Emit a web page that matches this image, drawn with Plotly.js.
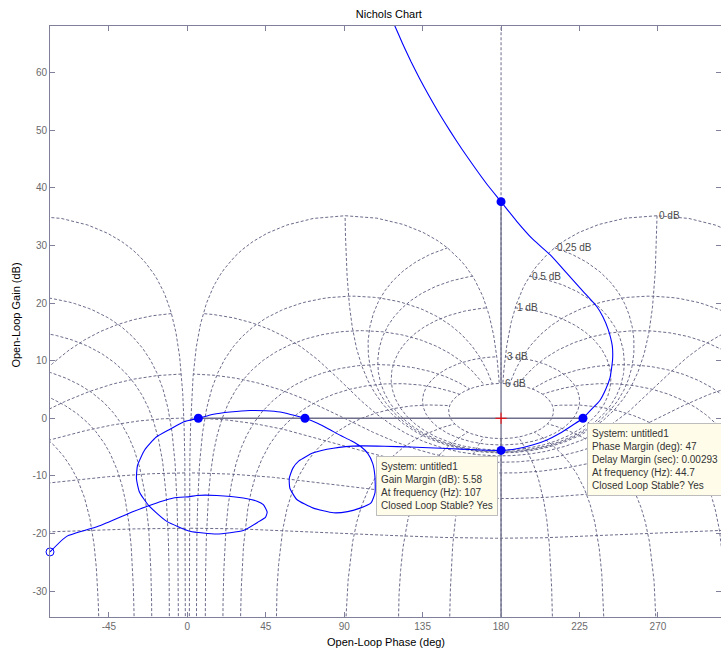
<!DOCTYPE html>
<html><head><meta charset="utf-8">
<script src="https://cdn.plot.ly/plotly-3.0.1.min.js"></script>
<style>html,body{margin:0;padding:0;background:#fff}#chart{width:721px;height:653px}</style>
</head><body><div id="chart"></div>
<script>
// ---- Open-loop response (phase in deg, gain in dB) ----
const loopPhase = [-78.8,-69.2,-51.5,-31.0,-23.3,-8.0,1.5,5.4,16.9,32.1,40.0,43.6,45.8,44.8,41.2,32.1,16.9,1.5,-11.8,-22.0,-27.5,-29.2,-28.6,-24.5,-18.0,-9.9,-2.0,6.3,15.0,24.5,36.0,45.0,53.2,60.0,67.5,75.0,81.9,88.0,94.0,99.5,103.5,106.3,107.6,107.7,105.4,99.1,92.0,83.8,72.3,62.8,58.8,58.5,60.5,64.0,72.3,83.8,99.1,113.0,127.8,142.0,156.5,168.0,180.0,189.0,198.5,206.0,213.8,221.0,227.0,232.0,236.5,240.0,242.5,244.0,243.8,241.5,238.5,234.9,227.2,217.7,208.1,198.5,189.0,180.0,171.8,164.5,157.5,150.9,144.7,138.9,133.4,128.3,123.6,119.2,117.1];
const loopGain  = [-23.2,-20.5,-18.8,-16.2,-15.3,-13.85,-13.6,-13.4,-13.4,-13.85,-14.4,-15.0,-16.3,-17.2,-17.9,-19.5,-20.1,-19.6,-17.9,-15.2,-12.8,-10.5,-8.2,-5.5,-3.3,-1.9,-0.6,0.0,0.7,1.08,1.35,1.3,1.08,0.6,0.0,-0.9,-2.0,-3.0,-3.9,-4.9,-6.1,-7.8,-10.0,-12.9,-14.7,-15.6,-16.2,-16.4,-15.6,-14.1,-12.1,-10.4,-8.7,-7.4,-6.0,-5.2,-4.8,-4.85,-5.0,-5.15,-5.35,-5.5,-5.58,-5.3,-4.6,-3.8,-2.6,-1.2,0.0,1.6,3.0,5.0,7.0,10.2,12.6,15.4,17.6,19.4,22.0,25.2,28.4,31.0,34.2,37.6,40.67,43.7,46.75,49.8,52.83,55.87,58.9,61.94,64.98,68.02,69.5];
const startPhase = [-78.8];
const startGain  = [-23.2];
// stability margin points
const gmPhase = [180, 180];
const gmGain  = [37.6, -5.58];
const pmPhase = [6.3, 67.5, 227];
const pmGain  = [0, 0, 0];
const critPhase = [180];
const critGain  = [0];
// Nichols grid: closed-loop gains (dB) and closed-loop phases (deg)
const gridGains  = [6, 3, 1, 0.5, 0.25, 0, -1, -3, -6, -12, -20, -40];
const gridPhases = [-1,-5,-10,-20,-30,-50,-90,-120,-150,-180,-210,-240,-270,-310,-330,-340,-350,-355,-359];
// axes
const xTicks = [-45, 0, 45, 90, 135, 180, 225, 270];
const yTicks = [-30, -20, -10, 0, 10, 20, 30, 40, 50, 60];
const xRange = [-78.8, 306.2];
const yRange = [-34.5, 68.1];
// data tips
const gmTip = ['System: untitled1', 'Gain Margin (dB): 5.58', 'At frequency (Hz): 107', 'Closed Loop Stable? Yes'];
const pmTip = ['System: untitled1', 'Phase Margin (deg): 47', 'Delay Margin (sec): 0.00293', 'At frequency (Hz): 44.7', 'Closed Loop Stable? Yes'];

const FONT = 'Liberation Sans, Arial, Helvetica, sans-serif';

// ---- Nichols grid generation ----
function openLoop(tm, tphDeg) {
  const r = tphDeg * Math.PI / 180;
  const re = tm * Math.cos(r), im = tm * Math.sin(r);
  const dr = 1 - re, di = -im;
  const mag = tm / Math.hypot(dr, di);
  const ph = tphDeg - Math.atan2(di, dr) * 180 / Math.PI;
  return [ph, 20 * Math.log10(mag)];
}
const gx = [], gy = [];
const shifts = [0, 360];
function phiList() {
  const a = [];
  for (let i = 10; i < 100; i++) a.push(-i / 10);
  for (let i = 20; i <= 700; i++) a.push(-i / 2);
  for (let i = 3501; i <= 3590; i++) a.push(-i / 10);
  return a;
}
const phis = phiList();
gridGains.forEach(g => {
  const m = Math.pow(10, g / 20);
  shifts.forEach(s => {
    phis.forEach(p => { const [ph, gd] = openLoop(m, p); gx.push(ph + s); gy.push(gd); });
    gx.push(null); gy.push(null);
  });
});
gridPhases.forEach(p => {
  shifts.forEach(s => {
    for (let i = -1000; i <= 120; i++) {
      const t = Math.pow(10, (i * 0.05) / 20);
      const [ph, gd] = openLoop(t, p); gx.push(ph + s); gy.push(gd);
    }
    gx.push(null); gy.push(null);
  });
});
// closed-loop phase 0 branch above the critical point
for (let k = -100; k <= 0; k++) {
  const t = 1 + Math.pow(10, k * 0.05);
  gx.push(180); gy.push(20 * Math.log10(t / (t - 1)));
}
gx.push(null); gy.push(null);

// labels of closed-loop gain contours
const annotations = [];
gridGains.filter(g => g >= 0).forEach(g => {
  const [ph, gd] = openLoop(Math.pow(10, g / 20), -1);
  const x = ph + 360;
  if (x > xRange[0] && x < xRange[1] && gd < yRange[1]) {
    annotations.push({x: x, y: gd, xref: 'x', yref: 'y', xanchor: 'left', yanchor: 'middle', showarrow: false,
      text: g + ' dB', font: {family: FONT, size: 10, color: '#4a4a4a'}});
  }
});
// data tips
annotations.push({x: 108.1, y: -6.5, xref: 'x', yref: 'y', xanchor: 'left', yanchor: 'top', showarrow: false, align: 'left',
  text: gmTip.join('<br>'), bgcolor: '#FFFCEA', bordercolor: '#BDBDBD', borderwidth: 1, borderpad: 4,
  font: {family: FONT, size: 10, color: '#333'}});
annotations.push({x: 229.1, y: -0.83, xref: 'x', yref: 'y', xanchor: 'left', yanchor: 'top', showarrow: false, align: 'left',
  text: pmTip.join('<br>'), bgcolor: '#FFFCEA', bordercolor: '#BDBDBD', borderwidth: 1, borderpad: 4,
  font: {family: FONT, size: 10, color: '#333'}});
// axis titles
annotations.push({x: 0.5, y: 0, xref: 'paper', yref: 'paper', yanchor: 'middle', xanchor: 'center', yshift: -25, showarrow: false,
  text: 'Open-Loop Phase (deg)', font: {family: FONT, size: 11, color: '#000'}});
annotations.push({x: 0, y: 0.51, xref: 'paper', yref: 'paper', xshift: -42, showarrow: false, textangle: -90,
  text: 'Open-Loop Gain (dB)', font: {family: FONT, size: 11, color: '#000'}});

const traces = [
  {type: 'scatter', mode: 'lines', x: gx, y: gy, connectgaps: false, hoverinfo: 'skip',
   line: {color: '#5a5a7e', width: 0.9, dash: '3px,2px'}},
  {type: 'scatter', mode: 'lines', x: [pmPhase[0], pmPhase[2]], y: [0, 0], hoverinfo: 'skip',
   line: {color: '#6e6e8a', width: 1.3}},
  {type: 'scatter', mode: 'lines', x: [gmPhase[0], gmPhase[0]], y: [gmGain[0], yRange[0] - 5], hoverinfo: 'skip',
   line: {color: '#6e6e8a', width: 1.3}},
  {type: 'scatter', mode: 'lines', x: loopPhase, y: loopGain, hoverinfo: 'skip',
   line: {color: '#0000ff', width: 1.1, shape: 'spline', smoothing: 0.5}},
  {type: 'scatter', mode: 'markers', x: startPhase, y: startGain, cliponaxis: false,
   marker: {symbol: 'circle-open', size: 8, color: '#0000ff', line: {width: 1, color: '#0000ff'}}},
  {type: 'scatter', mode: 'markers', x: gmPhase.concat(pmPhase), y: gmGain.concat(pmGain),
   marker: {symbol: 'circle', size: 9, color: '#0000ff'}},
  {type: 'scatter', mode: 'markers', x: critPhase, y: critGain,
   marker: {symbol: 'cross-thin', size: 8, color: '#ff0000', line: {width: 1, color: '#ff0000'}}}
];

const axisCommon = {ticks: 'inside', ticklen: 5, tickcolor: '#80809a', showline: true, linecolor: '#80809a', linewidth: 1,
  mirror: 'ticks', showgrid: false, zeroline: false, tickfont: {family: FONT, size: 10, color: '#6b6b6b'}};
const layout = {
  width: 721, height: 653, margin: {l: 50, r: 0, t: 26, b: 36, pad: 0},
  paper_bgcolor: '#fff', plot_bgcolor: '#fff', showlegend: false,
  title: {text: 'Nichols Chart', font: {family: FONT, size: 11, color: '#000'}, x: 0.505, xref: 'paper', xanchor: 'center',
          y: 1 - 14 / 653, yref: 'container', yanchor: 'middle'},
  xaxis: Object.assign({}, axisCommon, {range: xRange, tickvals: xTicks, ticktext: xTicks.map(String)}),
  yaxis: Object.assign({}, axisCommon, {range: yRange, tickvals: yTicks, ticktext: yTicks.map(String)}),
  annotations: annotations
};
Plotly.newPlot('chart', traces, layout, {displayModeBar: false, staticPlot: true});
</script>
</body></html>
